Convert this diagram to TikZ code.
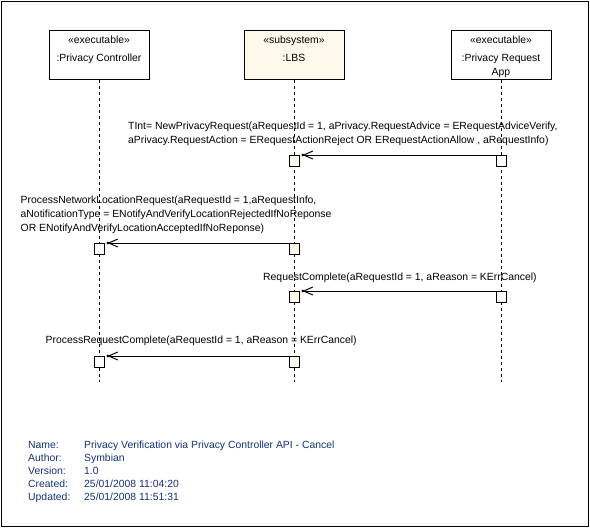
\documentclass[tikz,border=0pt]{standalone}
\usepackage{fontspec}
\setmainfont{Liberation Sans}
\usetikzlibrary{arrows.meta}

\definecolor{lbsfill}{RGB}{255,249,236}
\definecolor{infoblue}{RGB}{20,50,120}

\tikzset{
	head/.style = {draw, line width = 1pt, fill = white, minimum width = 98, minimum height = 49, inner sep = 2pt, anchor = north, font = \fontsize{10.4}{14}\selectfont},
	act/.style = {draw, line width = 1pt, fill = white, minimum width = 10, minimum height = 11, inner sep = 0, anchor = north},
	life/.style = {line width = 1pt, dash pattern = on 3pt off 3pt},
	msg/.style = {line width = 1pt, -{Straight Barb[length = 9pt, width = 8pt, sep = -1.5pt] Circle[length = 2.6pt]}, shorten > = 2pt},
	txt/.style = {anchor = north west, inner sep = 0, align = left, font = \fontsize{10.4}{14}\selectfont}
}

\newcommand{\headtext}[2]{\parbox[t][45pt][t]{96pt}{\centering\rule{0pt}{11pt}#1\\[4pt]#2}}

\begin{document}
\begin{tikzpicture}[x = 1pt, y = -1pt]
				\useasboundingbox (0, 0) rectangle (590, 528);
				\draw[line width = 1pt] (1, 1) rectangle (588.5, 526);

				\node[head] (pc) at (99, 30) {\headtext{«executable»}{:Privacy Controller}};
				\node[head, fill = lbsfill] (lbs) at (294, 30) {\headtext{«subsystem»}{:LBS}};
				\node[head] (pra) at (501, 30) {\headtext{«executable»}{:Privacy Request\\App}};

				\coordinate[](pcend) at (99, 382);
				\coordinate[](lbsend) at (294, 382);
				\coordinate[](praend) at (501, 382);

				\draw[life] (pc.south)--(pcend);
				\draw[life] (lbs.south)--(lbsend);
				\draw[life] (pra.south)--(praend);

				\node[act, fill = lbsfill] (lbsa) at (294, 155) {};
				\node[act] (praa) at (501, 155) {};
				\node[act] (pca) at (99, 243) {};
				\node[act, fill = lbsfill] (lbsb) at (294, 243) {};
				\node[act, fill = lbsfill] (lbsc) at (294, 291) {};
				\node[act] (prab) at (501, 291) {};
				\node[act] (pcb) at (99, 356) {};
				\node[act, fill = lbsfill] (lbsd) at (294, 356) {};

				\draw[msg] (praa.north west)--(lbsa.north east);
				\draw[msg] (lbsb.north west)--(pca.north east);
				\draw[msg] (prab.north west)--(lbsc.north east);
				\draw[msg] (lbsd.north west)--(pcb.north east);

				\node[txt] (newreq) at (128, 122) {TInt= NewPrivacyRequest(aRequestId = 1, aPrivacy.RequestAdvice = ERequestAdviceVerify,\\aPrivacy.RequestAction = ERequestActionReject OR ERequestActionAllow , aRequestInfo)};
				\node[txt] (netloc) at (20.5, 195.5) {ProcessNetworkLocationRequest(aRequestId = 1,aRequestInfo,\\aNotificationType = ENotifyAndVerifyLocationRejectedIfNoReponse\\OR ENotifyAndVerifyLocationAcceptedIfNoReponse)};
				\node[txt] (reqdone) at (263, 272.5) {RequestComplete(aRequestId = 1, aReason = KErrCancel)};
				\node[txt] (procdone) at (45.5, 335.3) {ProcessRequestComplete(aRequestId = 1, aReason = KErrCancel)};

				\node[anchor = north west, inner sep = 0, text = infoblue, font = \fontsize{10.4}{13.1}\selectfont] (info) at (28, 438.8) {\begin{tabular}{@{}p{56pt}@{}l@{}}
					Name: & Privacy Verification via Privacy Controller API - Cancel\\
					Author: & Symbian\\
					Version: & 1.0\\
					Created: & 25/01/2008 11:04:20\\
					Updated: & 25/01/2008 11:51:31
				\end{tabular}};
			\end{tikzpicture}
\end{document}
